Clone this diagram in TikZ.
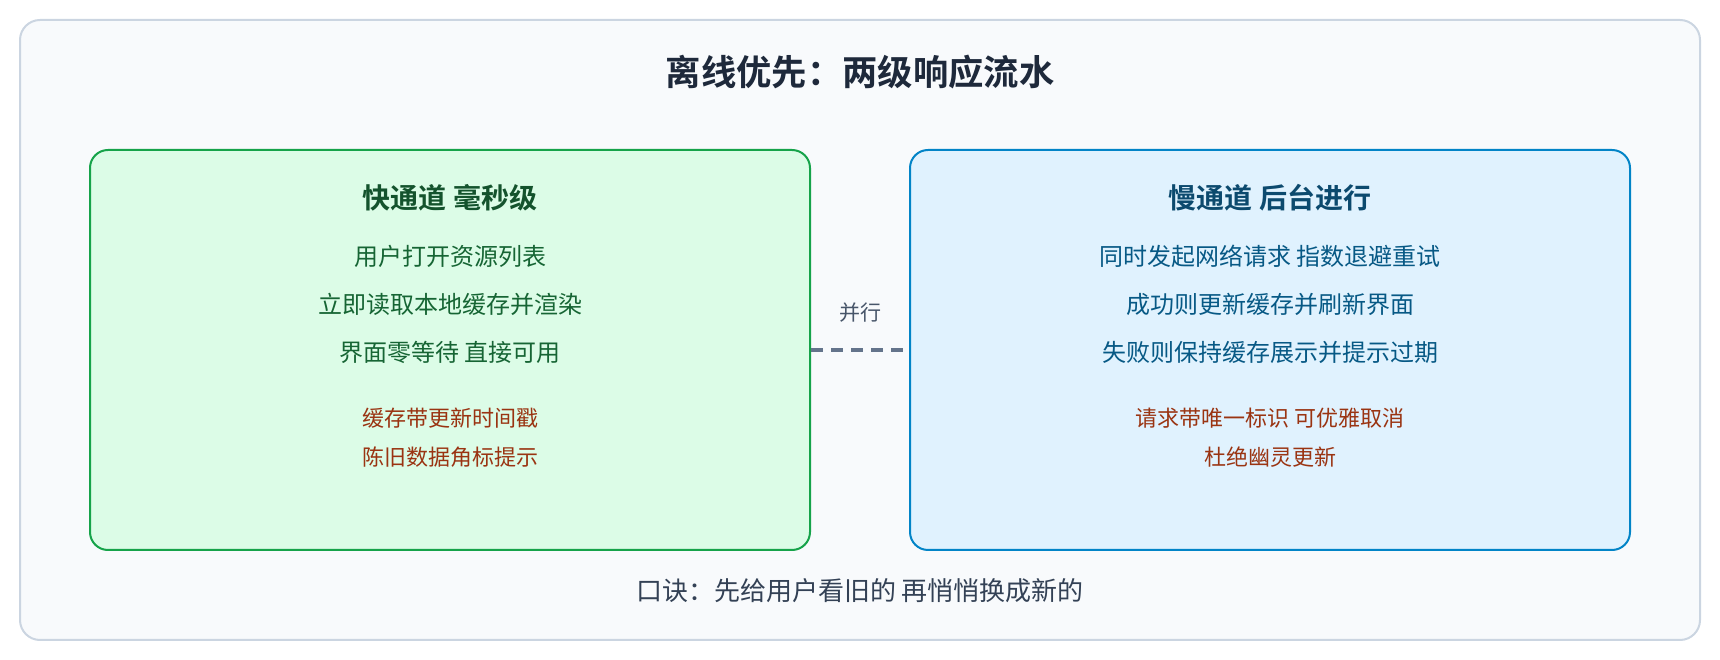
\documentclass[tikz,border=0pt]{standalone}
\usepackage{fontspec}
\setmainfont{Noto Sans CJK SC}[BoldFont={Noto Sans CJK SC Bold}]
\usetikzlibrary{positioning}
\definecolor{framefill}{HTML}{F8FAFC}
\definecolor{frameline}{HTML}{CBD5E1}
\definecolor{fastfill}{HTML}{DCFCE7}
\definecolor{fastline}{HTML}{16A34A}
\definecolor{fasthead}{HTML}{14532D}
\definecolor{fasttext}{HTML}{166534}
\definecolor{slowfill}{HTML}{E0F2FE}
\definecolor{slowline}{HTML}{0284C7}
\definecolor{slowhead}{HTML}{0C4A6E}
\definecolor{slowtext}{HTML}{075985}
\definecolor{notetext}{HTML}{9A3412}
\definecolor{titletext}{HTML}{1E293B}
\definecolor{mutedtext}{HTML}{475569}
\definecolor{dashgray}{HTML}{64748B}
\definecolor{foottext}{HTML}{334155}
\tikzstyle{lane} = [draw, rounded corners=13.5pt, rectangle, line width=1.5pt, minimum width=540pt, minimum height=300pt]
\tikzstyle{fastbox} = [lane, draw=fastline, fill=fastfill]
\tikzstyle{slowbox} = [lane, draw=slowline, fill=slowfill]
\tikzstyle{title} = [font=\fontsize{26.5}{32}\selectfont\bfseries, text=titletext]
\tikzstyle{head} = [font=\fontsize{21}{25}\selectfont\bfseries]
\tikzstyle{item} = [font=\fontsize{18}{22}\selectfont]
\tikzstyle{note} = [font=\fontsize{16.5}{20}\selectfont, text=notetext]
\tikzstyle{foot} = [font=\fontsize{19.5}{23}\selectfont, text=foottext]
\tikzstyle{dashline} = [line width=2.5pt, draw=dashgray, dash pattern=on 9pt off 6pt]

\begin{document}
\begin{tikzpicture}[x=0.75pt, y=0.75pt, on grid]

    \useasboundingbox (0,0) rectangle (1720,660);
    \draw[draw=frameline, fill=framefill, line width=1.5pt, rounded corners=15pt] (20,20) rectangle (1700,640);

    \node[title] (title) at (860,588) {离线优先：两级响应流水};

    % fast lane
    \node[fastbox] (fast) at (450,310) {};
    \node[head, text=fasthead, below=23pt of fast.north] (f0) {快通道 毫秒级};
    \node[item, text=fasttext, below=44.25pt of f0] (f1) {用户打开资源列表};
    \node[item, text=fasttext, below=36pt of f1] (f2) {立即读取本地缓存并渲染};
    \node[item, text=fasttext, below=36pt of f2] (f3) {界面零等待 直接可用};
    \node[note, below=48.75pt of f3] (f4) {缓存带更新时间戳};
    \node[note, below=29.25pt of f4] (f5) {陈旧数据角标提示};

    % slow lane
    \node[slowbox] (slow) at (1270,310) {};
    \node[head, text=slowhead, below=23pt of slow.north] (s0) {慢通道 后台进行};
    \node[item, text=slowtext, below=44.25pt of s0] (s1) {同时发起网络请求 指数退避重试};
    \node[item, text=slowtext, below=36pt of s1] (s2) {成功则更新缓存并刷新界面};
    \node[item, text=slowtext, below=36pt of s2] (s3) {失败则保持缓存展示并提示过期};
    \node[note, below=48.75pt of s3] (s4) {请求带唯一标识 可优雅取消};
    \node[note, below=29.25pt of s4] (s5) {杜绝幽灵更新};

    \draw[dashline] (fast) -- (slow) node[midway, yshift=27.75pt, text=mutedtext, font=\fontsize{15.75}{19}\selectfont] (par) {并行};

    \node[foot] (motto) at (860,69) {口诀：先给用户看旧的 再悄悄换成新的};

\end{tikzpicture}
\end{document}
